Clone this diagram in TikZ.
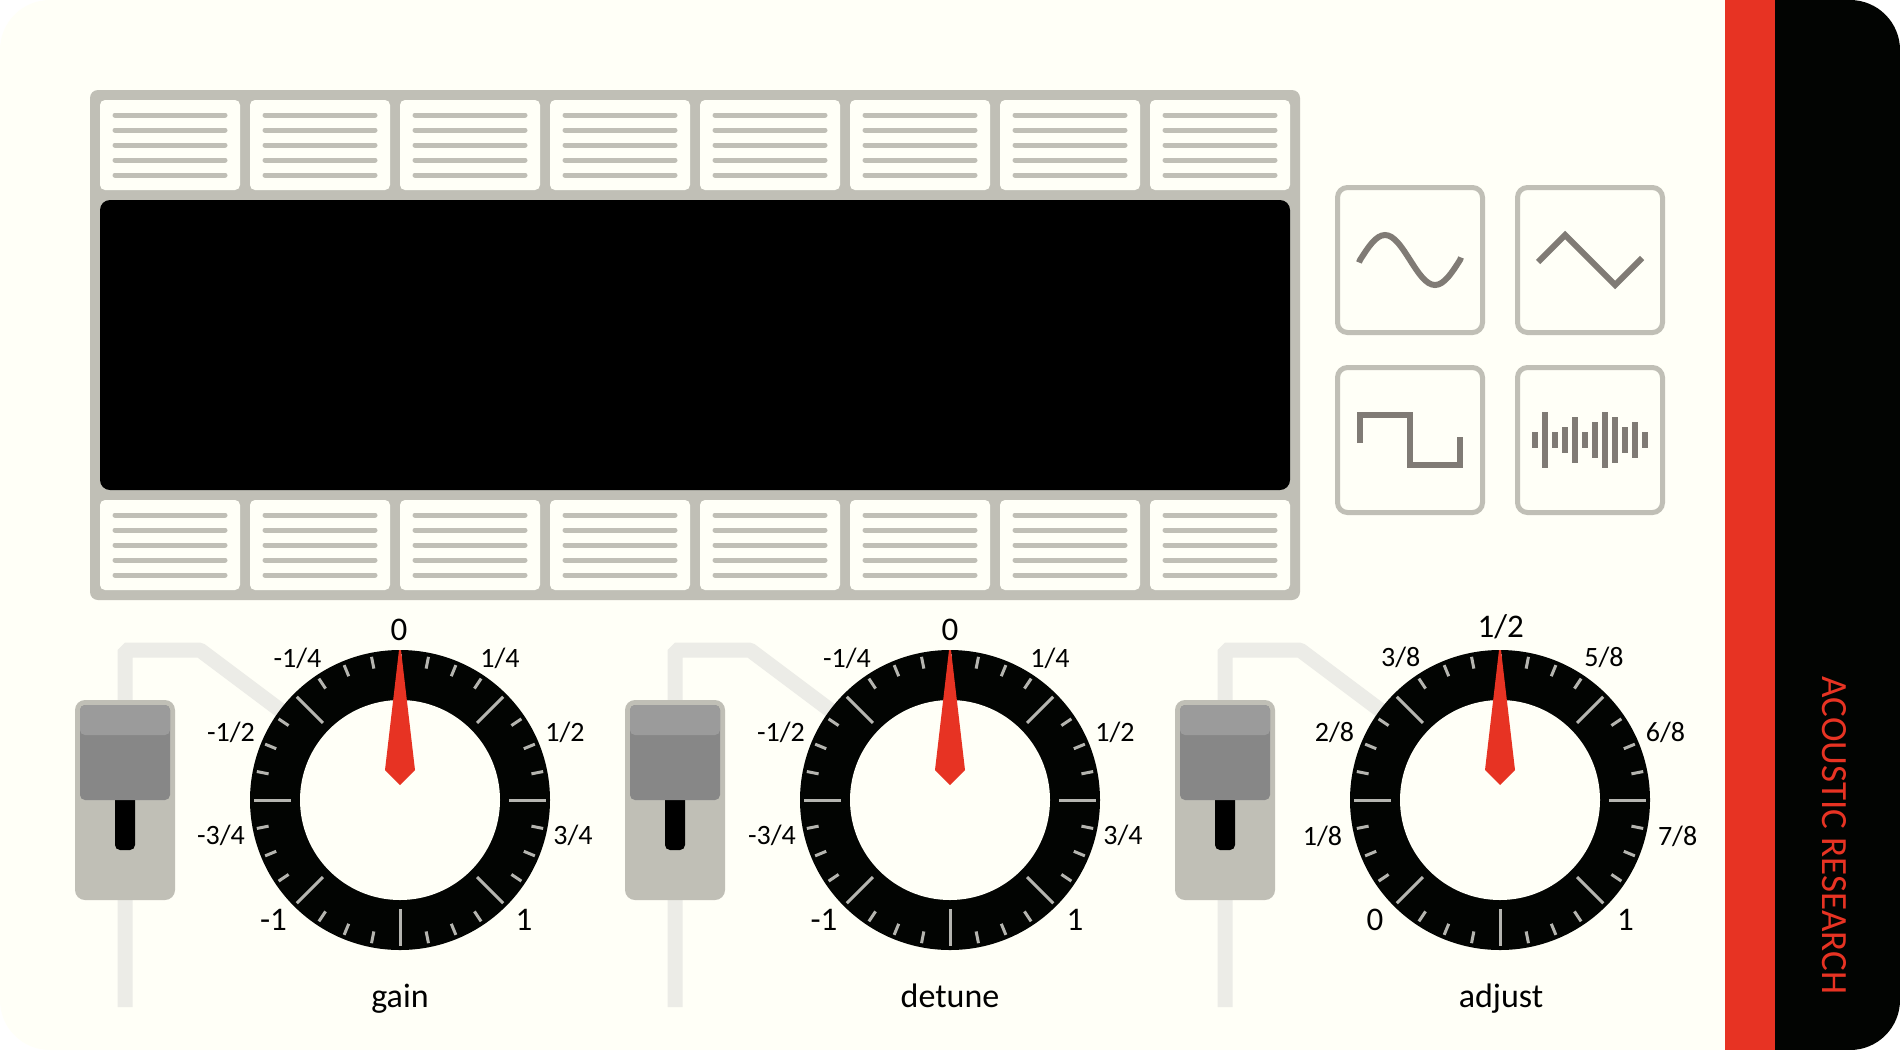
\documentclass[tikz,border=0pt]{standalone}
\usepackage{fontspec}
\setmainfont{Carlito}
\usetikzlibrary{calc}

\definecolor{panelbg}{HTML}{FFFFF7}
\definecolor{panelgrey}{HTML}{C0BFB6}
\definecolor{wavegrey}{HTML}{807B75}
\definecolor{trackgrey}{HTML}{ECECE7}
\definecolor{capdark}{HTML}{878787}
\definecolor{caplight}{HTML}{9B9B9B}
\definecolor{tickgrey}{HTML}{B5B5B0}
\definecolor{brandred}{HTML}{E73323}
\definecolor{brandblack}{HTML}{020402}

\tikzset{
    wave/.style={draw=wavegrey, line width=6pt},
    wavebox/.style={draw=panelgrey, line width=5pt, fill=panelbg, rounded corners=10pt},
    stepline/.style={draw=panelgrey, line width=5pt, line cap=round},
    track/.style={draw=trackgrey, line width=15pt, line join=bevel},
    dial label/.style={font=\fontsize{28}{28}\selectfont, inner sep=0pt},
    big label/.style={font=\fontsize{33}{33}\selectfont, inner sep=0pt},
    name label/.style={font=\fontsize{34}{34}\selectfont, inner sep=0pt, anchor=base},
    brand label/.style={font=\fontsize{37}{38}\selectfont, inner sep=0pt}
}

% one row of eight step cells
\newcommand{\cellrow}[1]{
    \foreach \i in {0,...,7} {
        \pgfmathsetmacro{\cx}{100+150*\i}
        \fill[panelbg, rounded corners=5pt] (\cx,#1) rectangle ++(140,90);
        \foreach \j in {0,...,4}
            \draw[stepline] (\cx+15,#1+15+15*\j) -- ++(110,0);
    }
}

% slider and dial, #1 = x of the dial centre
\newcommand{\dialunit}[1]{
    \begin{scope}[xshift=#1pt-400pt]
        \draw[track] (125,1007) -- (125,650) -- (200,650) -- (300,725);
        \fill[panelgrey, rounded corners=10pt] (75,700) rectangle (175,900);
        \fill[black, rounded corners=5pt] (115,780) rectangle (135,850);
        \fill[capdark, rounded corners=5pt] (80,705) rectangle (170,800);
        \fill[caplight, rounded corners=5pt] (80,705) rectangle (170,735);
        \fill[brandblack] (400,800) circle (150);
        \fill[panelbg] (400,800) circle (100);
        \foreach \a in {0,45,...,315}
            \draw[tickgrey, line width=3pt] ($(400,800)+(\a:109)$) -- ($(400,800)+(\a:146)$);
        \foreach \a in {0,45,...,315}
            \foreach \b in {11.25,22.5,33.75}
                \draw[tickgrey, line width=3pt] ($(400,800)+(\a+\b:134)$) -- ($(400,800)+(\a+\b:146)$);
        \fill[brandred] (399,650) -- (401,650) -- (415,770) -- (400,785) -- (385,770) -- cycle;
    \end{scope}
}

\begin{document}
\begin{tikzpicture}[x=1pt, y=-1pt]
    \useasboundingbox (0,0) rectangle (1900,1050);
    \fill[white] (0,0) rectangle (1900,1050);

    % faceplate
    \fill[panelbg, rounded corners=50pt] (0,0) rectangle (1900,1050);
    \begin{scope}
        \clip[rounded corners=50pt] (0,0) rectangle (1900,1050);
        \fill[brandred] (1725,0) rectangle (1775,1050);
        \fill[brandblack] (1775,0) rectangle (1900,1050);
    \end{scope}
    \node[brand label, text=brandred, rotate=-90] (brand) at (1834,835.5) {ACOUSTIC RESEARCH};

    % display
    \fill[panelgrey, rounded corners=8pt] (90,90) rectangle (1300,600);
    \cellrow{100}
    \cellrow{500}
    \fill[black, rounded corners=10pt] (100,200) rectangle (1290,490);

    % wave buttons
    \draw[wavebox] (1337.5,187.5) rectangle (1482.5,332.5);
    \draw[wavebox] (1517.5,187.5) rectangle (1662.5,332.5);
    \draw[wavebox] (1337.5,367.5) rectangle (1482.5,512.5);
    \draw[wavebox] (1517.5,367.5) rectangle (1662.5,512.5);
    \draw[wave] (1359,262.5) -- (1360,260) sin (1385,235) cos (1410,260) sin (1435,285) cos (1460,260) -- (1461,257.5);
    \draw[wave] (1538,262) -- (1565,235) -- (1615,285) -- (1642,258);
    \draw[wave] (1360,443) -- (1360,415) -- (1410,415) -- (1410,465) -- (1460,465) -- (1460,437);
    \foreach \x/\h in {1535/8,1545/28,1555/8,1565/13,1575/23,1585/8,1595/18,1605/28,1615/23,1625/13,1635/18,1645/8}
        \draw[wave] (\x,440-\h) -- (\x,440+\h);

    % dials
    \dialunit{400}
    \dialunit{950}
    \dialunit{1500}

    % gain
    \node[big label] (gain0) at (399,630) {0};
    \node[dial label] (gain1) at (297.5,658) {-1/4};
    \node[dial label] (gain2) at (500,658) {1/4};
    \node[dial label] (gain3) at (231,732) {-1/2};
    \node[dial label] (gain4) at (565,732) {1/2};
    \node[dial label] (gain5) at (221,835) {-3/4};
    \node[dial label] (gain6) at (573,835) {3/4};
    \node[big label] (gain7) at (273.5,920) {-1};
    \node[big label] (gain8) at (524,920) {1};
    \node[name label] (gainname) at (400,1007) {gain};

    % detune
    \node[big label] (detune0) at (950,630) {0};
    \node[dial label] (detune1) at (847,658) {-1/4};
    \node[dial label] (detune2) at (1050,658) {1/4};
    \node[dial label] (detune3) at (781,732) {-1/2};
    \node[dial label] (detune4) at (1115,732) {1/2};
    \node[dial label] (detune5) at (772,835) {-3/4};
    \node[dial label] (detune6) at (1123,835) {3/4};
    \node[big label] (detune7) at (824,920) {-1};
    \node[big label] (detune8) at (1075,920) {1};
    \node[name label] (detunename) at (950,1007) {detune};

    % adjust
    \node[big label] (adjust0) at (1500.7,627) {1/2};
    \node[dial label] (adjust1) at (1400.7,657) {3/8};
    \node[dial label] (adjust2) at (1604,657) {5/8};
    \node[dial label] (adjust3) at (1334.5,732) {2/8};
    \node[dial label] (adjust4) at (1665.5,732) {6/8};
    \node[dial label] (adjust5) at (1322.4,836) {1/8};
    \node[dial label] (adjust6) at (1677.6,836) {7/8};
    \node[big label] (adjust7) at (1375,920) {0};
    \node[big label] (adjust8) at (1625.5,920) {1};
    \node[name label] (adjustname) at (1501,1007) {adjust};
\end{tikzpicture}
\end{document}
